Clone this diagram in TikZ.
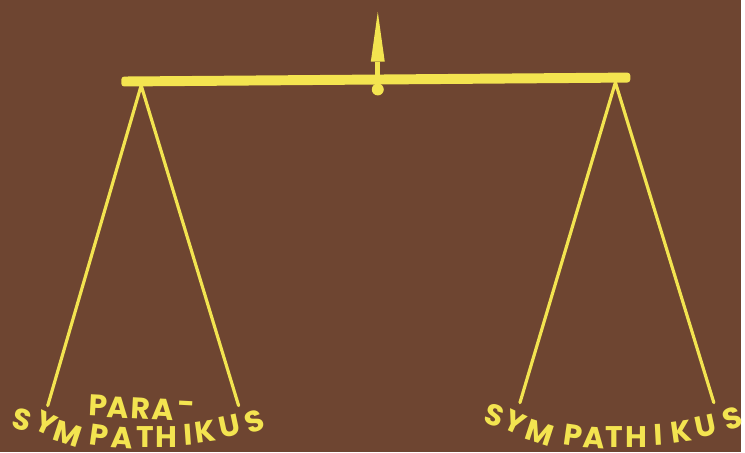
\documentclass[tikz,border=0pt]{standalone}
\usepackage{fontspec}
\setsansfont{Poppins}
\definecolor{bgbrown}{RGB}{110,69,49}
\definecolor{brass}{RGB}{243,228,80}

\begin{document}
\begin{tikzpicture}[x=1pt, y=-1pt,
  cord/.style  = {draw=brass, line width=3.2pt, line cap=round},
  glyph/.style = {text=brass, inner sep=0pt, anchor=center,
                  font=\fontsize{30}{32}\selectfont\sffamily\bfseries},
]

\fill[bgbrown] (0,0) rectangle (745,455);

% Beam with pointer and knob
\fill[brass, rounded corners=3pt]
  (122,77) -- (634,73) -- (634,83) -- (122,87) -- cycle;
\coordinate (pivot) at (380,80);
\coordinate (tip)   at (380,12);
\fill[brass] (tip) -- (387,62) -- (373,62) -- cycle;
\draw[brass, line width=5pt] (380,62) -- (pivot);
\fill[brass] (380,90) circle (6);

% Hangers
\coordinate (lapex) at (142,86);
\coordinate (rapex) at (619,83);
\coordinate (la) at (48,408);
\coordinate (lb) at (240,408);
\coordinate (ra) at (523,405);
\coordinate (rb) at (718,405);
\draw[cord] (la) -- (lapex) -- (lb);
\draw[cord] (ra) -- (rapex) -- (rb);

% Left label
\foreach \ch/\px/\py/\rot [count=\i] in
  {P/99/408/-3, A/119/410/-3, R/142/411/-3, A/164/412/-3, -/188/410/-3}
  \node[glyph, rotate=\rot] (pa\i) at (\px,\py) {\ch};
\foreach \ch/\px/\py/\rot [count=\i] in
  {S/22/422/-15, Y/46/426/-25, M/68/436/-18, P/100/438/-8,
   A/123/440/-4, T/146/440/0, H/167/440/0, I/189/437/4,
   K/207/434/8, U/231/429/12, S/256/424/20}
  \node[glyph, rotate=\rot] (ls\i) at (\px,\py) {\ch};

% Right label
\foreach \ch/\px/\py/\rot [count=\i] in
  {S/497/418/-18, Y/518/425/-25, M/543/435/-18, P/577/438/-8,
   A/598/440/-4, T/618/440/0, H/640/440/0, I/662/437/3,
   K/685/434/8, U/710/429/12, S/737/421/20}
  \node[glyph, rotate=\rot] (rs\i) at (\px,\py) {\ch};

\end{tikzpicture}
\end{document}
